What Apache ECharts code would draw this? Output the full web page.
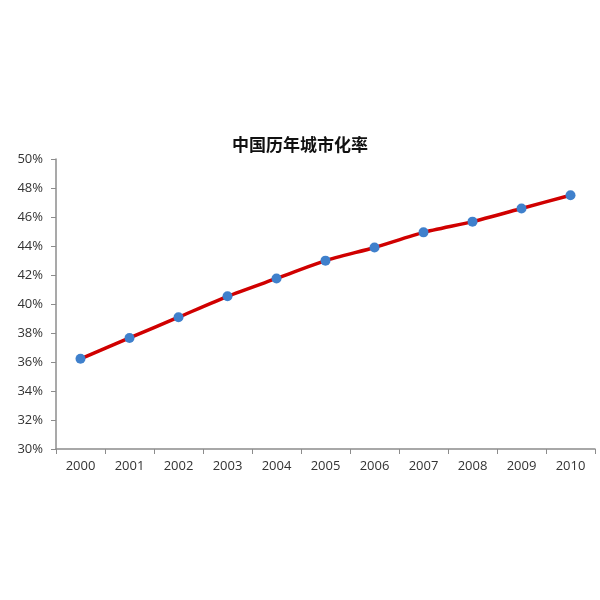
<!DOCTYPE html>
<html><head><meta charset="utf-8">
<script src="https://cdn.jsdelivr.net/npm/echarts@6/dist/echarts.min.js"></script>
<style>html,body{margin:0;padding:0;background:#fff}#c{width:600px;height:600px}</style>
</head><body><div id="c"></div>
<script>
const titleText = '中国历年城市化率';
const years = ['2000','2001','2002','2003','2004','2005','2006','2007','2008','2009','2010'];
const urbanRate = [36.22, 37.66, 39.09, 40.53, 41.76, 42.99, 43.9, 44.94, 45.68, 46.59, 47.5];
const yMin = 30, yMax = 50, yStep = 2;

const chart = echarts.init(document.getElementById('c'));
chart.setOption({
  animation: false,
  backgroundColor: '#fff',
  title: {
    text: titleText, left: 'center', top: 131,
    textStyle: { fontFamily: 'Noto Sans CJK SC', fontSize: 17, fontWeight: 'bold', color: '#111' }
  },
  grid: { left: 56, right: 5, top: 159, bottom: 151 },
  xAxis: {
    type: 'category', data: years, boundaryGap: true,
    axisLine: { lineStyle: { color: '#8c8c8c', width: 1.5 } },
    axisTick: { show: true, length: 5, alignWithLabel: false, lineStyle: { color: '#8c8c8c' } },
    axisLabel: { color: '#333', fontSize: 13, fontFamily: 'Open Sans', margin: 11 }
  },
  yAxis: {
    type: 'value', min: yMin, max: yMax, interval: yStep,
    axisLine: { show: true, lineStyle: { color: '#8c8c8c', width: 1.5 } },
    axisTick: { show: true, length: 5, lineStyle: { color: '#8c8c8c' } },
    splitLine: { show: false },
    axisLabel: { color: '#333', fontSize: 13, fontFamily: 'Open Sans', margin: 13, formatter: v => v + '%' }
  },
  series: [{
    type: 'line', data: urbanRate, smooth: 0.2,
    lineStyle: { color: '#d00000', width: 3.5 },
    symbol: 'circle', symbolSize: 10,
    itemStyle: { color: '#3f80cc' }
  }]
});
</script></body></html>
